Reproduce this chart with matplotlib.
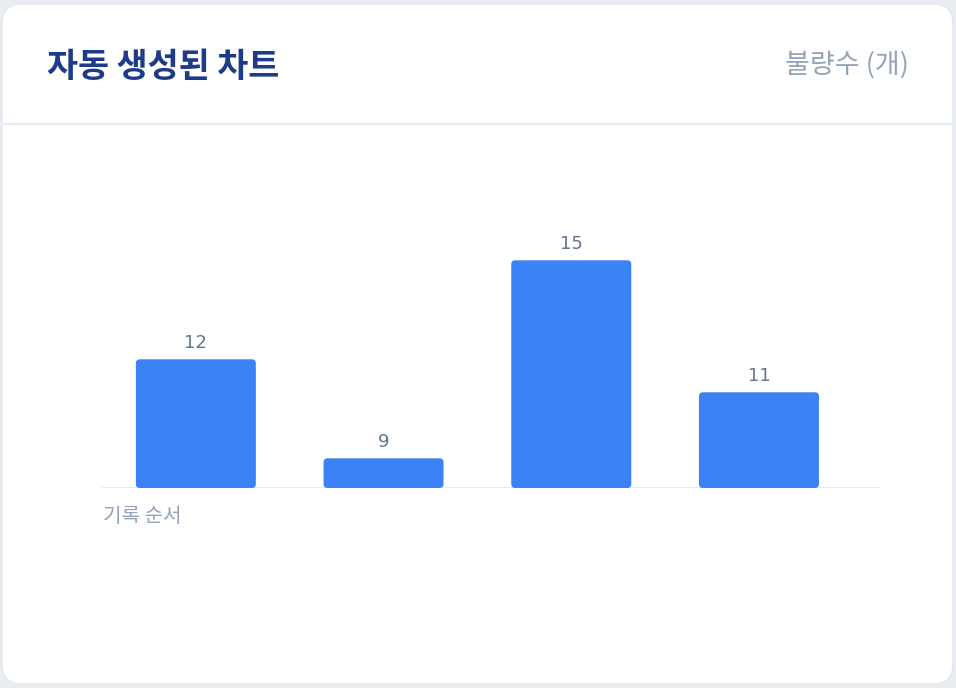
import matplotlib
matplotlib.use("Agg")
import matplotlib.pyplot as plt
from matplotlib.patches import FancyBboxPatch

plt.rcParams['font.family'] = ['Noto Sans CJK KR', 'DejaVu Sans']

# data
records = ['1', '2', '3', '4']
defects = [12, 9, 15, 11]
title = '자동 생성된 차트'
unit_label = '불량수 (개)'
x_label = '기록 순서'

W, H = 956, 688
fig = plt.figure(figsize=(W / 100, H / 100), dpi=100, facecolor='#e9ecf1')

# background card drawn in pixel coords
bg = fig.add_axes([0, 0, 1, 1])
bg.set_xlim(0, W)
bg.set_ylim(H, 0)
bg.axis('off')
card = FancyBboxPatch((2, 4), 951, 680, boxstyle='round,pad=0,rounding_size=20',
                      facecolor='white', edgecolor='#e3e7ee', linewidth=1)
bg.add_patch(card)
bg.plot([2.5, 952.5], [124, 124], color='#e2e8f0', lw=1.2)
bg.text(47, 66, title, fontsize=24.3, fontweight='bold', color='#1e3a8a',
        ha='left', va='center')
bg.text(909, 65, unit_label, fontsize=19.5, color='#94a3b8', ha='right', va='center')
bg.text(103, 516, x_label, fontsize=14.5, color='#94a3b8', ha='left', va='center')

# chart axes
left, right, base, top = 102, 881, 488, 180
ax = fig.add_axes([left / W, (H - base) / H, (right - left) / W, (base - top) / H])
ax.set_facecolor('none')
ymin = 8.1
px_per_y = 33.0
px_per_x = 187.7
ax.set_xlim(-0.5, -0.5 + (right - left) / px_per_x)
ax.set_ylim(ymin, ymin + (base - top) / px_per_y)
for s in ax.spines.values():
    s.set_visible(False)
ax.set_xticks([])
ax.set_yticks([])
ax.axhline(ymin, color='#e2e8f0', lw=1.2, zorder=1)

bw = 120 / px_per_x
for i, v in enumerate(defects):
    p = FancyBboxPatch((i - bw / 2, ymin), bw, v - ymin,
                       boxstyle='round,pad=0,rounding_size=%f' % (4 / px_per_x),
                       mutation_aspect=px_per_x / px_per_y,
                       facecolor='#3b82f6', edgecolor='none', zorder=2)
    ax.add_patch(p)
    ax.annotate(str(v), (i, v), xytext=(0, 7), textcoords='offset pixels',
                ha='center', va='bottom', fontsize=13, color='#64748b',
                family='DejaVu Sans')

fig.savefig('out.png', dpi=100, facecolor=fig.get_facecolor())
